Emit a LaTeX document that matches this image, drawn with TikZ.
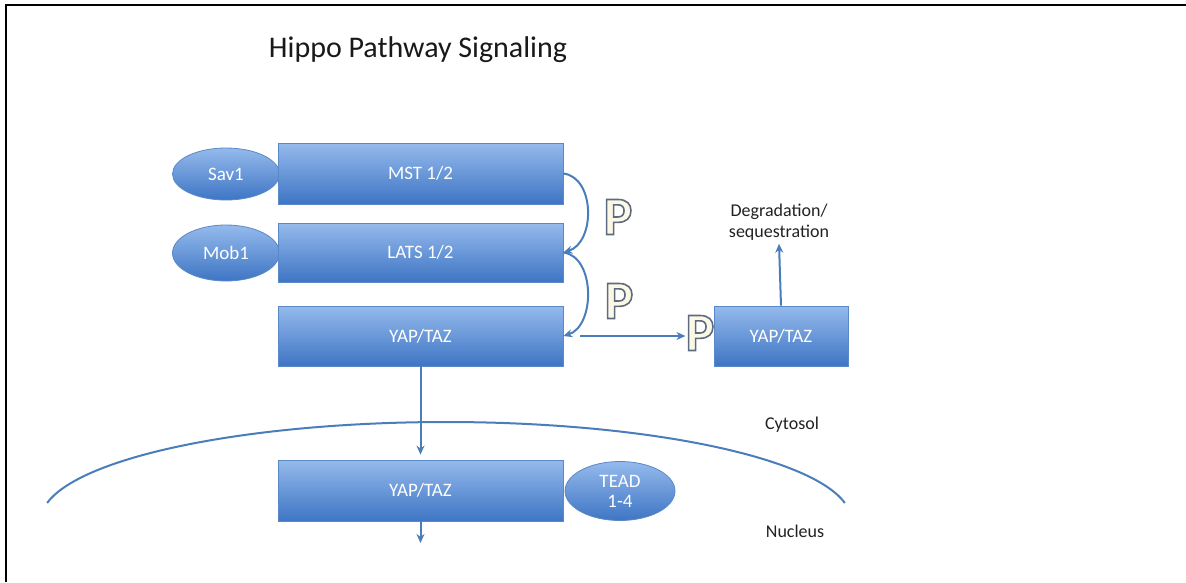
\documentclass[tikz,border=0pt]{standalone}
\usepackage{fontspec}
\setmainfont{Carlito}
\usetikzlibrary{shapes.geometric,arrows.meta}
\definecolor{btop}{HTML}{95BAEC}
\definecolor{bbot}{HTML}{3E75C4}
\definecolor{bdraw}{HTML}{5A89C8}
\definecolor{lcol}{HTML}{4A7EBB}
\definecolor{pfill}{HTML}{FCF8E6}
\definecolor{tcol}{HTML}{222222}
\tikzset{
  box/.style={draw=bdraw, line width=0.8pt, top color=btop, bottom color=bbot,
    text=white, font=\fontsize{19}{22}\selectfont, minimum width=285pt,
    minimum height=61pt, inner sep=0pt},
  blob/.style={ellipse, draw=bdraw, line width=0.8pt, top color=btop, bottom color=bbot,
    text=white, font=\fontsize{19}{22}\selectfont, inner sep=0pt, align=center},
  conn/.style={draw=lcol, line width=2pt, -{Stealth[length=9pt,width=8pt]}},
  lab/.style={text=tcol, font=\fontsize{18}{21}\selectfont, align=center},
  pletter/.style={font=\bfseries\fontsize{54}{54}\selectfont, inner sep=0pt, text=pfill},
}
\newcommand{\outlinedP}{\special{pdf:literal direct 0.36 0.42 0.50 RG 2 Tr 1.6 w}P\special{pdf:literal direct 0 Tr}}
\begin{document}
\begin{tikzpicture}[x=1pt,y=-1pt]
\useasboundingbox (0,0) rectangle (1186,582);
\fill[white] (0,0) rectangle (1186,582);
% frame
\draw[line width=2.5pt] (6,582) -- (6,5) -- (1186,5);
% title
\node[font=\fontsize{30}{34}\selectfont, text=black!90] (title) at (418,50) {Hippo Pathway Signaling};
% ellipses
\node[blob, minimum width=107pt, minimum height=52pt] (sav) at (226,174) {Sav1};
\node[blob, minimum width=107pt, minimum height=56pt] (mob) at (226,253) {Mob1};
% boxes
\node[box] (mst) at (420.5,173.5) {MST 1/2};
\node[box, minimum height=59pt] (lats) at (420.5,252.5) {LATS 1/2};
\node[box, minimum height=60pt] (yap1) at (420.5,336) {YAP/TAZ};
\node[box, minimum width=134pt, minimum height=60pt] (yap2) at (781,336) {YAP/TAZ};
\node[box] (yap3) at (420.5,490.5) {YAP/TAZ};
\node[blob, minimum width=110pt, minimum height=59pt] (tead) at (620,491) {TEAD\\[-2pt]1-4};
% P marks
\node[pletter] (p1) at (618,217) {\outlinedP};
\node[pletter] (p2) at (619,301) {\outlinedP};
\node[pletter] (p3) at (700,333) {\outlinedP};
% labels
\node[lab] (degr) at (779,222) {Degradation/\\sequestration};
\node[lab] (cyt) at (792,425) {Cytosol};
\node[lab] (nuc) at (795,531) {Nucleus};
% membrane
\draw[lcol, line width=2pt] plot[domain=170:10, samples=80, smooth] ({446+405*cos(\x)}, {520-98*sin(\x)});
% connectors
\draw[conn] (mst.east) .. controls +(32,4) and +(32,-10) .. (lats.east);
\draw[conn] (lats.east) .. controls +(32,4) and +(32,-10) .. (yap1.east);
\draw[conn] ([xshift=17pt]yap1.east) -- (yap1.east -| p3.west);
\draw[conn] (yap2.north) -- (degr.south);
\draw[conn] (yap1.south) -- ([yshift=5pt]yap3.north);
\coordinate (out) at (420.5,543);
\draw[conn] (yap3.south) -- (out);
\end{tikzpicture}
\end{document}
